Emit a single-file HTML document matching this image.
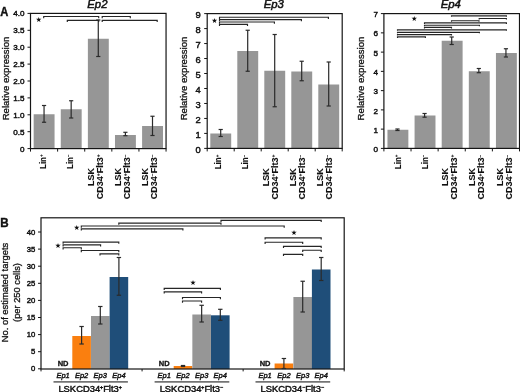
<!DOCTYPE html>
<html><head><meta charset="utf-8"><title>Figure</title>
<style>html,body{margin:0;padding:0;background:#fff}body{width:520px;height:392px;overflow:hidden}svg{display:block}</style>
</head><body>
<svg width="520" height="392" viewBox="0 0 520 392" font-family="'Liberation Sans', 'DejaVu Sans', sans-serif" fill="#111" style="filter:blur(0.35px)">
<rect width="520" height="392" fill="#fff"/>
<text x="0.30" y="15.80" font-size="12.0" text-anchor="start" font-weight="bold" transform="translate(0.30 15.80) rotate(0) scale(0.93 1) translate(-0.30 -15.80)" stroke="#111" stroke-width="0.4">A</text>
<text x="0.30" y="227.10" font-size="12.0" text-anchor="start" font-weight="bold" transform="translate(0.30 227.10) rotate(0) scale(0.97 1) translate(-0.30 -227.10)" stroke="#111" stroke-width="0.4">B</text>
<line x1="27.50" y1="148.60" x2="30.50" y2="148.60" stroke="#151515" stroke-width="1"/>
<text x="24.60" y="151.52" font-size="8.1" text-anchor="end" stroke="#111" stroke-width="0.45">0</text>
<line x1="27.50" y1="131.70" x2="30.50" y2="131.70" stroke="#151515" stroke-width="1"/>
<text x="24.60" y="134.62" font-size="8.1" text-anchor="end" stroke="#111" stroke-width="0.45">0.5</text>
<line x1="27.50" y1="114.80" x2="30.50" y2="114.80" stroke="#151515" stroke-width="1"/>
<text x="24.60" y="117.72" font-size="8.1" text-anchor="end" stroke="#111" stroke-width="0.45">1.0</text>
<line x1="27.50" y1="97.90" x2="30.50" y2="97.90" stroke="#151515" stroke-width="1"/>
<text x="24.60" y="100.82" font-size="8.1" text-anchor="end" stroke="#111" stroke-width="0.45">1.5</text>
<line x1="27.50" y1="81.00" x2="30.50" y2="81.00" stroke="#151515" stroke-width="1"/>
<text x="24.60" y="83.92" font-size="8.1" text-anchor="end" stroke="#111" stroke-width="0.45">2.0</text>
<line x1="27.50" y1="64.10" x2="30.50" y2="64.10" stroke="#151515" stroke-width="1"/>
<text x="24.60" y="67.02" font-size="8.1" text-anchor="end" stroke="#111" stroke-width="0.45">2.5</text>
<line x1="27.50" y1="47.20" x2="30.50" y2="47.20" stroke="#151515" stroke-width="1"/>
<text x="24.60" y="50.12" font-size="8.1" text-anchor="end" stroke="#111" stroke-width="0.45">3.0</text>
<line x1="27.50" y1="30.30" x2="30.50" y2="30.30" stroke="#151515" stroke-width="1"/>
<text x="24.60" y="33.22" font-size="8.1" text-anchor="end" stroke="#111" stroke-width="0.45">3.5</text>
<line x1="27.50" y1="13.40" x2="30.50" y2="13.40" stroke="#151515" stroke-width="1"/>
<text x="24.60" y="16.32" font-size="8.1" text-anchor="end" stroke="#111" stroke-width="0.45">4.0</text>
<line x1="30.50" y1="148.60" x2="30.50" y2="151.60" stroke="#151515" stroke-width="1"/>
<line x1="57.61" y1="148.60" x2="57.61" y2="151.60" stroke="#151515" stroke-width="1"/>
<line x1="84.72" y1="148.60" x2="84.72" y2="151.60" stroke="#151515" stroke-width="1"/>
<line x1="111.83" y1="148.60" x2="111.83" y2="151.60" stroke="#151515" stroke-width="1"/>
<line x1="138.94" y1="148.60" x2="138.94" y2="151.60" stroke="#151515" stroke-width="1"/>
<line x1="166.05" y1="148.60" x2="166.05" y2="151.60" stroke="#151515" stroke-width="1"/>
<rect x="33.66" y="114.25" width="20.90" height="34.35" fill="#969696"/>
<text x="46.05" y="154.50" font-size="9" text-anchor="end" font-weight="bold" transform="translate(46.05 154.50) rotate(-90) scale(0.88 1) translate(-46.05 -154.50)" stroke="#111" stroke-width="0.1">Lin<tspan font-size="55%" dy="-2.9">+</tspan><tspan dy="2.9">​</tspan></text>
<rect x="60.77" y="109.25" width="20.90" height="39.35" fill="#969696"/>
<text x="73.17" y="154.50" font-size="9" text-anchor="end" font-weight="bold" transform="translate(73.17 154.50) rotate(-90) scale(0.88 1) translate(-73.17 -154.50)" stroke="#111" stroke-width="0.1">Lin<tspan font-size="55%" dy="-2.9">−</tspan><tspan dy="2.9">​</tspan></text>
<rect x="87.88" y="38.75" width="20.90" height="109.85" fill="#969696"/>
<text x="93.58" y="176.90" font-size="9" text-anchor="middle" font-weight="bold" transform="rotate(-90 93.58 176.90)" stroke="#111" stroke-width="0.1">LSK</text>
<text x="102.58" y="176.80" font-size="9" text-anchor="middle" font-weight="bold" transform="rotate(-90 102.58 176.80)" stroke="#111" stroke-width="0.1">CD34<tspan font-size="55%" dy="-2.9">+</tspan><tspan dy="2.9">​</tspan>Flt3<tspan font-size="55%" dy="-2.9">+</tspan><tspan dy="2.9">​</tspan></text>
<rect x="114.98" y="135.00" width="20.90" height="13.60" fill="#969696"/>
<text x="120.69" y="176.90" font-size="9" text-anchor="middle" font-weight="bold" transform="rotate(-90 120.69 176.90)" stroke="#111" stroke-width="0.1">LSK</text>
<text x="129.69" y="176.80" font-size="9" text-anchor="middle" font-weight="bold" transform="rotate(-90 129.69 176.80)" stroke="#111" stroke-width="0.1">CD34<tspan font-size="55%" dy="-2.9">+</tspan><tspan dy="2.9">​</tspan>Flt3<tspan font-size="55%" dy="-2.9">−</tspan><tspan dy="2.9">​</tspan></text>
<rect x="142.09" y="126.00" width="20.90" height="22.60" fill="#969696"/>
<text x="147.80" y="176.90" font-size="9" text-anchor="middle" font-weight="bold" transform="rotate(-90 147.80 176.90)" stroke="#111" stroke-width="0.1">LSK</text>
<text x="156.80" y="176.80" font-size="9" text-anchor="middle" font-weight="bold" transform="rotate(-90 156.80 176.80)" stroke="#111" stroke-width="0.1">CD34<tspan font-size="55%" dy="-2.9">−</tspan><tspan dy="2.9">​</tspan>Flt3<tspan font-size="55%" dy="-2.9">−</tspan><tspan dy="2.9">​</tspan></text>
<rect x="30.5" y="13.4" width="135.55" height="135.2" fill="none" stroke="#151515" stroke-width="1.2"/>
<line x1="44.05" y1="105.50" x2="44.05" y2="122.25" stroke="#2a2a2a" stroke-width="1.2"/>
<line x1="41.95" y1="105.50" x2="46.16" y2="105.50" stroke="#2a2a2a" stroke-width="1.2"/>
<line x1="41.95" y1="122.25" x2="46.16" y2="122.25" stroke="#2a2a2a" stroke-width="1.2"/>
<line x1="71.17" y1="100.75" x2="71.17" y2="118.00" stroke="#2a2a2a" stroke-width="1.2"/>
<line x1="69.07" y1="100.75" x2="73.27" y2="100.75" stroke="#2a2a2a" stroke-width="1.2"/>
<line x1="69.07" y1="118.00" x2="73.27" y2="118.00" stroke="#2a2a2a" stroke-width="1.2"/>
<line x1="98.28" y1="20.00" x2="98.28" y2="56.50" stroke="#2a2a2a" stroke-width="1.2"/>
<line x1="96.18" y1="20.00" x2="100.38" y2="20.00" stroke="#2a2a2a" stroke-width="1.2"/>
<line x1="96.18" y1="56.50" x2="100.38" y2="56.50" stroke="#2a2a2a" stroke-width="1.2"/>
<line x1="125.39" y1="132.30" x2="125.39" y2="135.70" stroke="#2a2a2a" stroke-width="1.2"/>
<line x1="123.29" y1="132.30" x2="127.48" y2="132.30" stroke="#2a2a2a" stroke-width="1.2"/>
<line x1="123.29" y1="135.70" x2="127.48" y2="135.70" stroke="#2a2a2a" stroke-width="1.2"/>
<line x1="152.50" y1="116.25" x2="152.50" y2="135.50" stroke="#2a2a2a" stroke-width="1.2"/>
<line x1="150.40" y1="116.25" x2="154.59" y2="116.25" stroke="#2a2a2a" stroke-width="1.2"/>
<line x1="150.40" y1="135.50" x2="154.59" y2="135.50" stroke="#2a2a2a" stroke-width="1.2"/>
<text x="38.80" y="20.60" font-size="3.9" text-anchor="middle" stroke="#111" stroke-width="0.8">★</text>
<text x="97.38" y="8.00" font-size="11.3" text-anchor="middle" font-style="italic" stroke="#111" stroke-width="0.5">Ep2</text>
<text x="9.00" y="78.50" font-size="9.6" text-anchor="middle" transform="rotate(-90 9.00 78.50)" stroke="#111" stroke-width="0.3">Relative expression</text>
<path d="M43.70 18.20V16.50H98.70V18.20" fill="none" stroke="#262626" stroke-width="1.15"/>
<path d="M102.20 18.20V16.50H130.30V18.20" fill="none" stroke="#262626" stroke-width="1.15"/>
<path d="M67.30 22.10V20.40H98.70V22.10" fill="none" stroke="#262626" stroke-width="1.15"/>
<path d="M102.20 22.10V20.40H157.20V22.10" fill="none" stroke="#262626" stroke-width="1.15"/>
<line x1="204.20" y1="148.40" x2="207.20" y2="148.40" stroke="#151515" stroke-width="1"/>
<text x="200.70" y="153.08" font-size="9.4" text-anchor="end" stroke="#111" stroke-width="0.45">0</text>
<line x1="204.20" y1="133.42" x2="207.20" y2="133.42" stroke="#151515" stroke-width="1"/>
<text x="200.70" y="138.11" font-size="9.4" text-anchor="end" stroke="#111" stroke-width="0.45">1</text>
<line x1="204.20" y1="118.44" x2="207.20" y2="118.44" stroke="#151515" stroke-width="1"/>
<text x="200.70" y="123.13" font-size="9.4" text-anchor="end" stroke="#111" stroke-width="0.45">2</text>
<line x1="204.20" y1="103.47" x2="207.20" y2="103.47" stroke="#151515" stroke-width="1"/>
<text x="200.70" y="108.15" font-size="9.4" text-anchor="end" stroke="#111" stroke-width="0.45">3</text>
<line x1="204.20" y1="88.49" x2="207.20" y2="88.49" stroke="#151515" stroke-width="1"/>
<text x="200.70" y="93.17" font-size="9.4" text-anchor="end" stroke="#111" stroke-width="0.45">4</text>
<line x1="204.20" y1="73.51" x2="207.20" y2="73.51" stroke="#151515" stroke-width="1"/>
<text x="200.70" y="78.20" font-size="9.4" text-anchor="end" stroke="#111" stroke-width="0.45">5</text>
<line x1="204.20" y1="58.53" x2="207.20" y2="58.53" stroke="#151515" stroke-width="1"/>
<text x="200.70" y="63.22" font-size="9.4" text-anchor="end" stroke="#111" stroke-width="0.45">6</text>
<line x1="204.20" y1="43.56" x2="207.20" y2="43.56" stroke="#151515" stroke-width="1"/>
<text x="200.70" y="48.24" font-size="9.4" text-anchor="end" stroke="#111" stroke-width="0.45">7</text>
<line x1="204.20" y1="28.58" x2="207.20" y2="28.58" stroke="#151515" stroke-width="1"/>
<text x="200.70" y="33.26" font-size="9.4" text-anchor="end" stroke="#111" stroke-width="0.45">8</text>
<line x1="204.20" y1="13.60" x2="207.20" y2="13.60" stroke="#151515" stroke-width="1"/>
<text x="200.70" y="18.28" font-size="9.4" text-anchor="end" stroke="#111" stroke-width="0.45">9</text>
<line x1="207.20" y1="148.40" x2="207.20" y2="151.40" stroke="#151515" stroke-width="1"/>
<line x1="234.20" y1="148.40" x2="234.20" y2="151.40" stroke="#151515" stroke-width="1"/>
<line x1="261.20" y1="148.40" x2="261.20" y2="151.40" stroke="#151515" stroke-width="1"/>
<line x1="288.20" y1="148.40" x2="288.20" y2="151.40" stroke="#151515" stroke-width="1"/>
<line x1="315.20" y1="148.40" x2="315.20" y2="151.40" stroke="#151515" stroke-width="1"/>
<line x1="342.20" y1="148.40" x2="342.20" y2="151.40" stroke="#151515" stroke-width="1"/>
<rect x="210.30" y="133.50" width="20.90" height="14.90" fill="#969696"/>
<text x="221.50" y="154.80" font-size="9" text-anchor="end" font-weight="bold" transform="translate(221.50 154.80) rotate(-90) scale(0.88 1) translate(-221.50 -154.80)" stroke="#111" stroke-width="0.1">Lin<tspan font-size="55%" dy="-2.9">+</tspan><tspan dy="2.9">​</tspan></text>
<rect x="237.30" y="51.00" width="20.90" height="97.40" fill="#969696"/>
<text x="248.50" y="154.80" font-size="9" text-anchor="end" font-weight="bold" transform="translate(248.50 154.80) rotate(-90) scale(0.88 1) translate(-248.50 -154.80)" stroke="#111" stroke-width="0.1">Lin<tspan font-size="55%" dy="-2.9">−</tspan><tspan dy="2.9">​</tspan></text>
<rect x="264.30" y="70.75" width="20.90" height="77.65" fill="#969696"/>
<text x="268.80" y="177.20" font-size="9" text-anchor="middle" font-weight="bold" transform="rotate(-90 268.80 177.20)" stroke="#111" stroke-width="0.1">LSK</text>
<text x="277.80" y="177.10" font-size="9" text-anchor="middle" font-weight="bold" transform="rotate(-90 277.80 177.10)" stroke="#111" stroke-width="0.1">CD34<tspan font-size="55%" dy="-2.9">+</tspan><tspan dy="2.9">​</tspan>Flt3<tspan font-size="55%" dy="-2.9">+</tspan><tspan dy="2.9">​</tspan></text>
<rect x="291.30" y="71.50" width="20.90" height="76.90" fill="#969696"/>
<text x="295.80" y="177.20" font-size="9" text-anchor="middle" font-weight="bold" transform="rotate(-90 295.80 177.20)" stroke="#111" stroke-width="0.1">LSK</text>
<text x="304.80" y="177.10" font-size="9" text-anchor="middle" font-weight="bold" transform="rotate(-90 304.80 177.10)" stroke="#111" stroke-width="0.1">CD34<tspan font-size="55%" dy="-2.9">+</tspan><tspan dy="2.9">​</tspan>Flt3<tspan font-size="55%" dy="-2.9">−</tspan><tspan dy="2.9">​</tspan></text>
<rect x="318.30" y="84.50" width="20.90" height="63.90" fill="#969696"/>
<text x="322.80" y="177.20" font-size="9" text-anchor="middle" font-weight="bold" transform="rotate(-90 322.80 177.20)" stroke="#111" stroke-width="0.1">LSK</text>
<text x="331.80" y="177.10" font-size="9" text-anchor="middle" font-weight="bold" transform="rotate(-90 331.80 177.10)" stroke="#111" stroke-width="0.1">CD34<tspan font-size="55%" dy="-2.9">−</tspan><tspan dy="2.9">​</tspan>Flt3<tspan font-size="55%" dy="-2.9">−</tspan><tspan dy="2.9">​</tspan></text>
<rect x="207.2" y="13.6" width="135.0" height="134.8" fill="none" stroke="#151515" stroke-width="1.2"/>
<line x1="220.70" y1="129.50" x2="220.70" y2="136.50" stroke="#2a2a2a" stroke-width="1.2"/>
<line x1="218.60" y1="129.50" x2="222.80" y2="129.50" stroke="#2a2a2a" stroke-width="1.2"/>
<line x1="218.60" y1="136.50" x2="222.80" y2="136.50" stroke="#2a2a2a" stroke-width="1.2"/>
<line x1="247.70" y1="30.25" x2="247.70" y2="71.25" stroke="#2a2a2a" stroke-width="1.2"/>
<line x1="245.60" y1="30.25" x2="249.80" y2="30.25" stroke="#2a2a2a" stroke-width="1.2"/>
<line x1="245.60" y1="71.25" x2="249.80" y2="71.25" stroke="#2a2a2a" stroke-width="1.2"/>
<line x1="274.70" y1="34.50" x2="274.70" y2="106.75" stroke="#2a2a2a" stroke-width="1.2"/>
<line x1="272.60" y1="34.50" x2="276.80" y2="34.50" stroke="#2a2a2a" stroke-width="1.2"/>
<line x1="272.60" y1="106.75" x2="276.80" y2="106.75" stroke="#2a2a2a" stroke-width="1.2"/>
<line x1="301.70" y1="61.25" x2="301.70" y2="80.75" stroke="#2a2a2a" stroke-width="1.2"/>
<line x1="299.60" y1="61.25" x2="303.80" y2="61.25" stroke="#2a2a2a" stroke-width="1.2"/>
<line x1="299.60" y1="80.75" x2="303.80" y2="80.75" stroke="#2a2a2a" stroke-width="1.2"/>
<line x1="328.70" y1="62.00" x2="328.70" y2="106.00" stroke="#2a2a2a" stroke-width="1.2"/>
<line x1="326.60" y1="62.00" x2="330.80" y2="62.00" stroke="#2a2a2a" stroke-width="1.2"/>
<line x1="326.60" y1="106.00" x2="330.80" y2="106.00" stroke="#2a2a2a" stroke-width="1.2"/>
<text x="214.40" y="22.40" font-size="3.9" text-anchor="middle" stroke="#111" stroke-width="0.8">★</text>
<text x="273.80" y="8.00" font-size="11.3" text-anchor="middle" font-style="italic" stroke="#111" stroke-width="0.5">Ep3</text>
<text x="187.40" y="78.50" font-size="9.6" text-anchor="middle" transform="rotate(-90 187.40 78.50)" stroke="#111" stroke-width="0.3">Relative expression</text>
<path d="M219.50 18.90V17.20H328.40V18.90" fill="none" stroke="#262626" stroke-width="1.15"/>
<path d="M219.50 21.30V19.60H301.40V21.30" fill="none" stroke="#262626" stroke-width="1.15"/>
<path d="M219.50 23.70V22.00H274.40V23.70" fill="none" stroke="#262626" stroke-width="1.15"/>
<path d="M219.50 26.10V24.40H247.50V26.10" fill="none" stroke="#262626" stroke-width="1.15"/>
<line x1="380.90" y1="148.40" x2="383.90" y2="148.40" stroke="#151515" stroke-width="1"/>
<text x="378.00" y="152.02" font-size="8.1" text-anchor="end" stroke="#111" stroke-width="0.45">0</text>
<line x1="380.90" y1="129.14" x2="383.90" y2="129.14" stroke="#151515" stroke-width="1"/>
<text x="378.00" y="132.76" font-size="8.1" text-anchor="end" stroke="#111" stroke-width="0.45">1</text>
<line x1="380.90" y1="109.89" x2="383.90" y2="109.89" stroke="#151515" stroke-width="1"/>
<text x="378.00" y="113.50" font-size="8.1" text-anchor="end" stroke="#111" stroke-width="0.45">2</text>
<line x1="380.90" y1="90.63" x2="383.90" y2="90.63" stroke="#151515" stroke-width="1"/>
<text x="378.00" y="94.24" font-size="8.1" text-anchor="end" stroke="#111" stroke-width="0.45">3</text>
<line x1="380.90" y1="71.37" x2="383.90" y2="71.37" stroke="#151515" stroke-width="1"/>
<text x="378.00" y="74.99" font-size="8.1" text-anchor="end" stroke="#111" stroke-width="0.45">4</text>
<line x1="380.90" y1="52.11" x2="383.90" y2="52.11" stroke="#151515" stroke-width="1"/>
<text x="378.00" y="55.73" font-size="8.1" text-anchor="end" stroke="#111" stroke-width="0.45">5</text>
<line x1="380.90" y1="32.86" x2="383.90" y2="32.86" stroke="#151515" stroke-width="1"/>
<text x="378.00" y="36.47" font-size="8.1" text-anchor="end" stroke="#111" stroke-width="0.45">6</text>
<line x1="380.90" y1="13.60" x2="383.90" y2="13.60" stroke="#151515" stroke-width="1"/>
<text x="378.00" y="17.22" font-size="8.1" text-anchor="end" stroke="#111" stroke-width="0.45">7</text>
<line x1="383.90" y1="148.40" x2="383.90" y2="151.40" stroke="#151515" stroke-width="1"/>
<line x1="411.02" y1="148.40" x2="411.02" y2="151.40" stroke="#151515" stroke-width="1"/>
<line x1="438.14" y1="148.40" x2="438.14" y2="151.40" stroke="#151515" stroke-width="1"/>
<line x1="465.26" y1="148.40" x2="465.26" y2="151.40" stroke="#151515" stroke-width="1"/>
<line x1="492.38" y1="148.40" x2="492.38" y2="151.40" stroke="#151515" stroke-width="1"/>
<line x1="519.50" y1="148.40" x2="519.50" y2="151.40" stroke="#151515" stroke-width="1"/>
<rect x="387.46" y="129.75" width="20.90" height="18.65" fill="#969696"/>
<text x="400.76" y="154.70" font-size="9" text-anchor="end" font-weight="bold" transform="translate(400.76 154.70) rotate(-90) scale(0.88 1) translate(-400.76 -154.70)" stroke="#111" stroke-width="0.1">Lin<tspan font-size="55%" dy="-2.9">+</tspan><tspan dy="2.9">​</tspan></text>
<rect x="414.58" y="115.50" width="20.90" height="32.90" fill="#969696"/>
<text x="427.88" y="154.70" font-size="9" text-anchor="end" font-weight="bold" transform="translate(427.88 154.70) rotate(-90) scale(0.88 1) translate(-427.88 -154.70)" stroke="#111" stroke-width="0.1">Lin<tspan font-size="55%" dy="-2.9">−</tspan><tspan dy="2.9">​</tspan></text>
<rect x="441.70" y="40.75" width="20.90" height="107.65" fill="#969696"/>
<text x="448.30" y="177.10" font-size="9" text-anchor="middle" font-weight="bold" transform="rotate(-90 448.30 177.10)" stroke="#111" stroke-width="0.1">LSK</text>
<text x="457.30" y="177.00" font-size="9" text-anchor="middle" font-weight="bold" transform="rotate(-90 457.30 177.00)" stroke="#111" stroke-width="0.1">CD34<tspan font-size="55%" dy="-2.9">+</tspan><tspan dy="2.9">​</tspan>Flt3<tspan font-size="55%" dy="-2.9">+</tspan><tspan dy="2.9">​</tspan></text>
<rect x="468.82" y="71.25" width="20.90" height="77.15" fill="#969696"/>
<text x="475.42" y="177.10" font-size="9" text-anchor="middle" font-weight="bold" transform="rotate(-90 475.42 177.10)" stroke="#111" stroke-width="0.1">LSK</text>
<text x="484.42" y="177.00" font-size="9" text-anchor="middle" font-weight="bold" transform="rotate(-90 484.42 177.00)" stroke="#111" stroke-width="0.1">CD34<tspan font-size="55%" dy="-2.9">+</tspan><tspan dy="2.9">​</tspan>Flt3<tspan font-size="55%" dy="-2.9">−</tspan><tspan dy="2.9">​</tspan></text>
<rect x="495.94" y="53.00" width="20.90" height="95.40" fill="#969696"/>
<text x="502.54" y="177.10" font-size="9" text-anchor="middle" font-weight="bold" transform="rotate(-90 502.54 177.10)" stroke="#111" stroke-width="0.1">LSK</text>
<text x="511.54" y="177.00" font-size="9" text-anchor="middle" font-weight="bold" transform="rotate(-90 511.54 177.00)" stroke="#111" stroke-width="0.1">CD34<tspan font-size="55%" dy="-2.9">−</tspan><tspan dy="2.9">​</tspan>Flt3<tspan font-size="55%" dy="-2.9">−</tspan><tspan dy="2.9">​</tspan></text>
<rect x="383.9" y="13.6" width="135.60000000000002" height="134.8" fill="none" stroke="#151515" stroke-width="1.2"/>
<line x1="397.46" y1="129.00" x2="397.46" y2="130.50" stroke="#2a2a2a" stroke-width="1.2"/>
<line x1="395.36" y1="129.00" x2="399.56" y2="129.00" stroke="#2a2a2a" stroke-width="1.2"/>
<line x1="395.36" y1="130.50" x2="399.56" y2="130.50" stroke="#2a2a2a" stroke-width="1.2"/>
<line x1="424.58" y1="113.50" x2="424.58" y2="117.20" stroke="#2a2a2a" stroke-width="1.2"/>
<line x1="422.48" y1="113.50" x2="426.68" y2="113.50" stroke="#2a2a2a" stroke-width="1.2"/>
<line x1="422.48" y1="117.20" x2="426.68" y2="117.20" stroke="#2a2a2a" stroke-width="1.2"/>
<line x1="451.70" y1="37.00" x2="451.70" y2="44.50" stroke="#2a2a2a" stroke-width="1.2"/>
<line x1="449.60" y1="37.00" x2="453.80" y2="37.00" stroke="#2a2a2a" stroke-width="1.2"/>
<line x1="449.60" y1="44.50" x2="453.80" y2="44.50" stroke="#2a2a2a" stroke-width="1.2"/>
<line x1="478.82" y1="68.50" x2="478.82" y2="72.70" stroke="#2a2a2a" stroke-width="1.2"/>
<line x1="476.72" y1="68.50" x2="480.92" y2="68.50" stroke="#2a2a2a" stroke-width="1.2"/>
<line x1="476.72" y1="72.70" x2="480.92" y2="72.70" stroke="#2a2a2a" stroke-width="1.2"/>
<line x1="505.94" y1="48.75" x2="505.94" y2="57.00" stroke="#2a2a2a" stroke-width="1.2"/>
<line x1="503.84" y1="48.75" x2="508.04" y2="48.75" stroke="#2a2a2a" stroke-width="1.2"/>
<line x1="503.84" y1="57.00" x2="508.04" y2="57.00" stroke="#2a2a2a" stroke-width="1.2"/>
<text x="414.20" y="20.20" font-size="3.9" text-anchor="middle" stroke="#111" stroke-width="0.8">★</text>
<text x="450.80" y="8.00" font-size="11.3" text-anchor="middle" font-style="italic" stroke="#111" stroke-width="0.5">Ep4</text>
<text x="363.80" y="78.50" font-size="9.6" text-anchor="middle" transform="rotate(-90 363.80 78.50)" stroke="#111" stroke-width="0.3">Relative expression</text>
<path d="M451.50 16.80V15.80H506.40V16.80" fill="none" stroke="#262626" stroke-width="1.15"/>
<path d="M479.20 19.50V18.50H506.40V19.50" fill="none" stroke="#262626" stroke-width="1.15"/>
<path d="M451.50 21.70V20.70H479.00V21.70" fill="none" stroke="#262626" stroke-width="1.15"/>
<path d="M424.50 23.90V22.90H506.40V23.90" fill="none" stroke="#262626" stroke-width="1.15"/>
<path d="M424.50 26.20V25.20H479.40V26.20" fill="none" stroke="#262626" stroke-width="1.15"/>
<path d="M424.50 28.40V27.40H451.50V28.40" fill="none" stroke="#262626" stroke-width="1.15"/>
<path d="M397.50 30.80V29.80H506.40V30.80" fill="none" stroke="#262626" stroke-width="1.15"/>
<path d="M397.50 33.30V32.30H479.40V33.30" fill="none" stroke="#262626" stroke-width="1.15"/>
<path d="M397.50 35.60V34.60H451.50V35.60" fill="none" stroke="#262626" stroke-width="1.15"/>
<path d="M397.50 37.90V36.90H425.40V37.90" fill="none" stroke="#262626" stroke-width="1.15"/>
<line x1="38.00" y1="368.80" x2="41.00" y2="368.80" stroke="#151515" stroke-width="1"/>
<text x="35.20" y="371.30" font-size="7.7" text-anchor="end" stroke="#111" stroke-width="0.45">0</text>
<line x1="38.00" y1="351.70" x2="41.00" y2="351.70" stroke="#151515" stroke-width="1"/>
<text x="35.20" y="354.20" font-size="7.7" text-anchor="end" stroke="#111" stroke-width="0.45">5</text>
<line x1="38.00" y1="334.60" x2="41.00" y2="334.60" stroke="#151515" stroke-width="1"/>
<text x="35.20" y="337.10" font-size="7.7" text-anchor="end" stroke="#111" stroke-width="0.45">10</text>
<line x1="38.00" y1="317.50" x2="41.00" y2="317.50" stroke="#151515" stroke-width="1"/>
<text x="35.20" y="320.00" font-size="7.7" text-anchor="end" stroke="#111" stroke-width="0.45">15</text>
<line x1="38.00" y1="300.40" x2="41.00" y2="300.40" stroke="#151515" stroke-width="1"/>
<text x="35.20" y="302.90" font-size="7.7" text-anchor="end" stroke="#111" stroke-width="0.45">20</text>
<line x1="38.00" y1="283.30" x2="41.00" y2="283.30" stroke="#151515" stroke-width="1"/>
<text x="35.20" y="285.80" font-size="7.7" text-anchor="end" stroke="#111" stroke-width="0.45">25</text>
<line x1="38.00" y1="266.20" x2="41.00" y2="266.20" stroke="#151515" stroke-width="1"/>
<text x="35.20" y="268.70" font-size="7.7" text-anchor="end" stroke="#111" stroke-width="0.45">30</text>
<line x1="38.00" y1="249.10" x2="41.00" y2="249.10" stroke="#151515" stroke-width="1"/>
<text x="35.20" y="251.60" font-size="7.7" text-anchor="end" stroke="#111" stroke-width="0.45">35</text>
<line x1="38.00" y1="232.00" x2="41.00" y2="232.00" stroke="#151515" stroke-width="1"/>
<text x="35.20" y="234.50" font-size="7.7" text-anchor="end" stroke="#111" stroke-width="0.45">40</text>
<line x1="41.00" y1="369.00" x2="41.00" y2="371.40" stroke="#151515" stroke-width="1"/>
<line x1="142.07" y1="369.00" x2="142.07" y2="371.40" stroke="#151515" stroke-width="1"/>
<line x1="243.13" y1="369.00" x2="243.13" y2="371.40" stroke="#151515" stroke-width="1"/>
<line x1="344.20" y1="369.00" x2="344.20" y2="371.40" stroke="#151515" stroke-width="1"/>
<rect x="72.30" y="336.00" width="18.60" height="33.00" fill="#fa7f0f"/>
<rect x="91.00" y="316.00" width="18.60" height="53.00" fill="#969696"/>
<rect x="109.60" y="277.00" width="18.60" height="92.00" fill="#1f4e79"/>
<rect x="173.70" y="366.00" width="18.60" height="3.00" fill="#fa7f0f"/>
<rect x="192.35" y="314.50" width="18.60" height="54.50" fill="#969696"/>
<rect x="211.00" y="315.30" width="18.60" height="53.70" fill="#1f4e79"/>
<rect x="274.60" y="363.50" width="18.60" height="5.50" fill="#fa7f0f"/>
<rect x="293.40" y="297.00" width="18.60" height="72.00" fill="#969696"/>
<rect x="311.90" y="269.50" width="18.60" height="99.50" fill="#1f4e79"/>
<rect x="41" y="217.8" width="303.2" height="151.2" fill="none" stroke="#151515" stroke-width="1.2"/>
<line x1="81.60" y1="326.50" x2="81.60" y2="344.00" stroke="#2a2a2a" stroke-width="1.2"/>
<line x1="79.40" y1="326.50" x2="83.80" y2="326.50" stroke="#2a2a2a" stroke-width="1.2"/>
<line x1="79.40" y1="344.00" x2="83.80" y2="344.00" stroke="#2a2a2a" stroke-width="1.2"/>
<line x1="100.30" y1="306.50" x2="100.30" y2="324.00" stroke="#2a2a2a" stroke-width="1.2"/>
<line x1="98.10" y1="306.50" x2="102.50" y2="306.50" stroke="#2a2a2a" stroke-width="1.2"/>
<line x1="98.10" y1="324.00" x2="102.50" y2="324.00" stroke="#2a2a2a" stroke-width="1.2"/>
<line x1="118.90" y1="257.50" x2="118.90" y2="295.25" stroke="#2a2a2a" stroke-width="1.2"/>
<line x1="116.70" y1="257.50" x2="121.10" y2="257.50" stroke="#2a2a2a" stroke-width="1.2"/>
<line x1="116.70" y1="295.25" x2="121.10" y2="295.25" stroke="#2a2a2a" stroke-width="1.2"/>
<text x="63.10" y="366.00" font-size="7.5" text-anchor="middle" font-weight="bold" stroke="#111" stroke-width="0.3">ND</text>
<text x="63.10" y="377.60" font-size="7.5" text-anchor="middle" font-style="italic" stroke="#111" stroke-width="0.4">Ep1</text>
<text x="81.60" y="377.60" font-size="7.5" text-anchor="middle" font-style="italic" stroke="#111" stroke-width="0.4">Ep2</text>
<text x="100.30" y="377.60" font-size="7.5" text-anchor="middle" font-style="italic" stroke="#111" stroke-width="0.4">Ep3</text>
<text x="118.90" y="377.60" font-size="7.5" text-anchor="middle" font-style="italic" stroke="#111" stroke-width="0.4">Ep4</text>
<line x1="53.50" y1="381.80" x2="127.90" y2="381.80" stroke="#747474" stroke-width="1.7"/>
<text x="90.10" y="391.70" font-size="9.4" text-anchor="middle" stroke="#111" stroke-width="0.45">LSKCD34<tspan font-size="55%" dy="-2.9">+</tspan><tspan dy="2.9">​</tspan>Flt3<tspan font-size="55%" dy="-2.9">+</tspan><tspan dy="2.9">​</tspan></text>
<line x1="183.00" y1="365.50" x2="183.00" y2="366.50" stroke="#2a2a2a" stroke-width="1.2"/>
<line x1="180.80" y1="365.50" x2="185.20" y2="365.50" stroke="#2a2a2a" stroke-width="1.2"/>
<line x1="180.80" y1="366.50" x2="185.20" y2="366.50" stroke="#2a2a2a" stroke-width="1.2"/>
<line x1="201.65" y1="305.30" x2="201.65" y2="322.00" stroke="#2a2a2a" stroke-width="1.2"/>
<line x1="199.45" y1="305.30" x2="203.85" y2="305.30" stroke="#2a2a2a" stroke-width="1.2"/>
<line x1="199.45" y1="322.00" x2="203.85" y2="322.00" stroke="#2a2a2a" stroke-width="1.2"/>
<line x1="220.30" y1="309.30" x2="220.30" y2="320.30" stroke="#2a2a2a" stroke-width="1.2"/>
<line x1="218.10" y1="309.30" x2="222.50" y2="309.30" stroke="#2a2a2a" stroke-width="1.2"/>
<line x1="218.10" y1="320.30" x2="222.50" y2="320.30" stroke="#2a2a2a" stroke-width="1.2"/>
<text x="164.20" y="366.00" font-size="7.5" text-anchor="middle" font-weight="bold" stroke="#111" stroke-width="0.3">ND</text>
<text x="164.20" y="377.60" font-size="7.5" text-anchor="middle" font-style="italic" stroke="#111" stroke-width="0.4">Ep1</text>
<text x="183.00" y="377.60" font-size="7.5" text-anchor="middle" font-style="italic" stroke="#111" stroke-width="0.4">Ep2</text>
<text x="201.65" y="377.60" font-size="7.5" text-anchor="middle" font-style="italic" stroke="#111" stroke-width="0.4">Ep3</text>
<text x="220.30" y="377.60" font-size="7.5" text-anchor="middle" font-style="italic" stroke="#111" stroke-width="0.4">Ep4</text>
<line x1="154.60" y1="381.80" x2="229.30" y2="381.80" stroke="#747474" stroke-width="1.7"/>
<text x="191.35" y="391.70" font-size="9.4" text-anchor="middle" stroke="#111" stroke-width="0.45">LSKCD34<tspan font-size="55%" dy="-2.9">+</tspan><tspan dy="2.9">​</tspan>Flt3<tspan font-size="55%" dy="-2.9">−</tspan><tspan dy="2.9">​</tspan></text>
<line x1="283.90" y1="358.50" x2="283.90" y2="368.50" stroke="#2a2a2a" stroke-width="1.2"/>
<line x1="281.70" y1="358.50" x2="286.10" y2="358.50" stroke="#2a2a2a" stroke-width="1.2"/>
<line x1="281.70" y1="368.50" x2="286.10" y2="368.50" stroke="#2a2a2a" stroke-width="1.2"/>
<line x1="302.70" y1="281.25" x2="302.70" y2="312.00" stroke="#2a2a2a" stroke-width="1.2"/>
<line x1="300.50" y1="281.25" x2="304.90" y2="281.25" stroke="#2a2a2a" stroke-width="1.2"/>
<line x1="300.50" y1="312.00" x2="304.90" y2="312.00" stroke="#2a2a2a" stroke-width="1.2"/>
<line x1="321.20" y1="257.50" x2="321.20" y2="280.50" stroke="#2a2a2a" stroke-width="1.2"/>
<line x1="319.00" y1="257.50" x2="323.40" y2="257.50" stroke="#2a2a2a" stroke-width="1.2"/>
<line x1="319.00" y1="280.50" x2="323.40" y2="280.50" stroke="#2a2a2a" stroke-width="1.2"/>
<text x="265.10" y="366.00" font-size="7.5" text-anchor="middle" font-weight="bold" stroke="#111" stroke-width="0.3">ND</text>
<text x="265.10" y="377.60" font-size="7.5" text-anchor="middle" font-style="italic" stroke="#111" stroke-width="0.4">Ep1</text>
<text x="283.90" y="377.60" font-size="7.5" text-anchor="middle" font-style="italic" stroke="#111" stroke-width="0.4">Ep2</text>
<text x="302.70" y="377.60" font-size="7.5" text-anchor="middle" font-style="italic" stroke="#111" stroke-width="0.4">Ep3</text>
<text x="321.20" y="377.60" font-size="7.5" text-anchor="middle" font-style="italic" stroke="#111" stroke-width="0.4">Ep4</text>
<line x1="255.50" y1="381.80" x2="330.20" y2="381.80" stroke="#747474" stroke-width="1.7"/>
<text x="292.25" y="391.70" font-size="9.4" text-anchor="middle" stroke="#111" stroke-width="0.45">LSKCD34<tspan font-size="55%" dy="-2.9">−</tspan><tspan dy="2.9">​</tspan>Flt3<tspan font-size="55%" dy="-2.9">−</tspan><tspan dy="2.9">​</tspan></text>
<path d="M118.80 224.80V223.10H221.00V224.80" fill="none" stroke="#262626" stroke-width="1.15"/>
<path d="M221.00 222.10V220.40H321.20V222.10" fill="none" stroke="#262626" stroke-width="1.15"/>
<path d="M81.30 227.70V226.00H284.20V227.70" fill="none" stroke="#262626" stroke-width="1.15"/>
<path d="M81.30 230.50V228.80H182.90V230.50" fill="none" stroke="#262626" stroke-width="1.15"/>
<text x="76.80" y="228.50" font-size="3.9" text-anchor="middle" stroke="#111" stroke-width="0.8">★</text>
<path d="M63.10 243.80V242.10H118.80V243.80" fill="none" stroke="#262626" stroke-width="1.15"/>
<path d="M63.10 246.50V244.80H100.60V246.50" fill="none" stroke="#262626" stroke-width="1.15"/>
<path d="M63.10 249.40V247.70H81.30V249.40" fill="none" stroke="#262626" stroke-width="1.15"/>
<path d="M81.30 252.20V250.50H118.80V252.20" fill="none" stroke="#262626" stroke-width="1.15"/>
<path d="M100.00 255.50V253.80H118.80V255.50" fill="none" stroke="#262626" stroke-width="1.15"/>
<text x="58.00" y="247.30" font-size="3.9" text-anchor="middle" stroke="#111" stroke-width="0.8">★</text>
<path d="M265.10 239.50V237.80H321.20V239.50" fill="none" stroke="#262626" stroke-width="1.15"/>
<path d="M265.10 243.90V242.20H302.70V243.90" fill="none" stroke="#262626" stroke-width="1.15"/>
<path d="M283.50 248.00V246.30H321.20V248.00" fill="none" stroke="#262626" stroke-width="1.15"/>
<path d="M302.70 251.90V250.20H321.20V251.90" fill="none" stroke="#262626" stroke-width="1.15"/>
<path d="M283.50 256.10V254.40H302.70V256.10" fill="none" stroke="#262626" stroke-width="1.15"/>
<text x="293.90" y="234.20" font-size="3.9" text-anchor="middle" stroke="#111" stroke-width="0.8">★</text>
<path d="M164.20 290.00V288.30H220.40V290.00" fill="none" stroke="#262626" stroke-width="1.15"/>
<path d="M164.20 293.50V291.80H201.60V293.50" fill="none" stroke="#262626" stroke-width="1.15"/>
<path d="M182.50 299.20V297.50H220.40V299.20" fill="none" stroke="#262626" stroke-width="1.15"/>
<path d="M182.50 302.70V301.00H201.60V302.70" fill="none" stroke="#262626" stroke-width="1.15"/>
<text x="193.00" y="283.80" font-size="3.9" text-anchor="middle" stroke="#111" stroke-width="0.8">★</text>
<text x="8.30" y="292.50" font-size="9.4" text-anchor="middle" transform="rotate(-90 8.30 292.50)" stroke="#111" stroke-width="0.3">No. of estimated targets</text>
<text x="19.60" y="292.50" font-size="9.3" text-anchor="middle" transform="rotate(-90 19.60 292.50)" stroke="#111" stroke-width="0.3">(per 250 cells)</text>
</svg>
</body></html>
